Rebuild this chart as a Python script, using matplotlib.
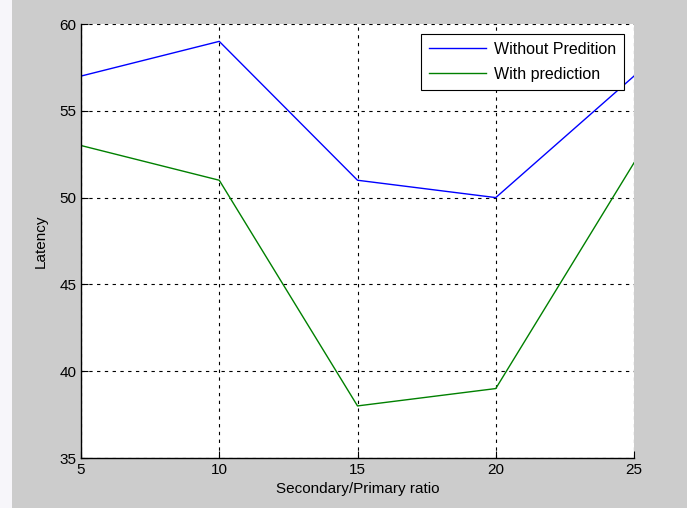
import matplotlib
matplotlib.use("Agg")
import matplotlib.pyplot as plt
from matplotlib.patches import Rectangle

# data
ratio = [5, 10, 15, 20, 25]
latency_without = [57, 59, 51, 50, 57]
latency_with = [53, 51, 38, 39, 52]
x_ticks = [5, 10, 15, 20, 25]
y_ticks = [35, 40, 45, 50, 55, 60]

plt.rcParams['font.family'] = ['Liberation Sans', 'DejaVu Sans']

fig = plt.figure(figsize=(6.87, 5.08), dpi=100, facecolor='#cccccc')
# faded white strip on the left edge of the screenshot
fig.patches.append(Rectangle((0, 0), 12 / 687, 1, transform=fig.transFigure,
                             facecolor='#f7f6fa', edgecolor='none', zorder=0))

ax = fig.add_axes([81 / 687, 50 / 508, 553 / 687, 434 / 508])
ax.set_facecolor('white')

ax.plot(ratio, latency_without, color=(0, 0, 1), lw=1, label='Without Predition')
ax.plot(ratio, latency_with, color=(0, 0.5, 0), lw=1, label='With prediction')

ax.set_xlim(5, 25)
ax.set_ylim(35, 60)
ax.set_xticks(x_ticks)
ax.set_yticks(y_ticks)
ax.tick_params(direction='in', length=5, labelsize=11, colors='black',
               top=False, right=False)
ax.grid(True, color='black', linestyle=(0, (3, 4)), lw=0.8)

for side in ['top', 'right']:
    ax.spines[side].set_visible(False)
for side in ['left', 'bottom']:
    ax.spines[side].set_linewidth(1)

ax.set_xlabel('Secondary/Primary ratio', fontsize=11, labelpad=4)
ax.set_ylabel('Latency', fontsize=11, labelpad=8)

leg = ax.legend(loc='upper right', fontsize=11.5, fancybox=False, framealpha=1,
                edgecolor='black', handlelength=3.6, handletextpad=0.5,
                labelspacing=0.65, borderpad=0.5, borderaxespad=0.6)
leg.get_frame().set_linewidth(0.8)

fig.savefig('out.png', dpi=100, facecolor=fig.get_facecolor())
